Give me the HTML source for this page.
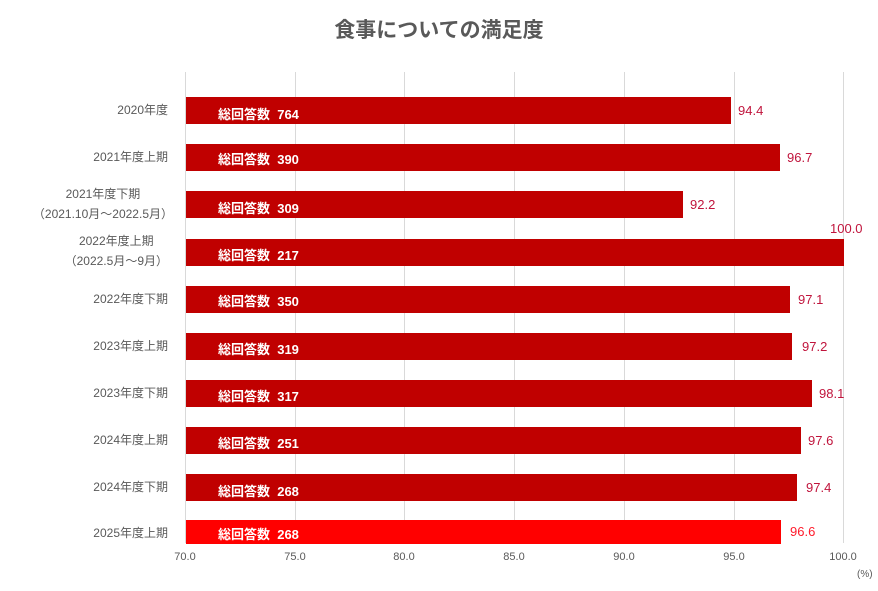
<!DOCTYPE html>
<html><head><meta charset="utf-8"><style>
body{margin:0;width:878px;height:591px;background:#fff;position:relative;font-family:"Liberation Sans","Noto Sans CJK JP",sans-serif;overflow:hidden}
.a{position:absolute;white-space:nowrap}
.g{position:absolute;top:72px;height:471px;width:1px;background:#d9d9d9}
.bar{position:absolute;left:186px;background:#c00000}
.bt{position:absolute;left:218px;color:#fff;font-weight:bold;font-size:13px}
.v{position:absolute;color:#c0143c;font-size:13px}
.c{position:absolute;color:#595959;font-size:12px;text-align:right;right:710px;line-height:20px}
.t{position:absolute;top:551px;color:#595959;font-size:11px;width:40px;margin-left:-20px;text-align:center}
</style></head><body>
<div class="a" style="left:0;width:878px;text-align:center;top:14px;font-size:21px;font-weight:bold;color:#595959">食事についての満足度</div>
<div class="g" style="left:185px"></div><div class="g" style="left:295px"></div><div class="g" style="left:404px"></div><div class="g" style="left:514px"></div><div class="g" style="left:624px"></div><div class="g" style="left:734px"></div><div class="g" style="left:843px"></div>
<div class="t" style="left:185px">70.0</div><div class="t" style="left:295px">75.0</div><div class="t" style="left:404px">80.0</div><div class="t" style="left:514px">85.0</div><div class="t" style="left:624px">90.0</div><div class="t" style="left:734px">95.0</div><div class="t" style="left:843px">100.0</div>
<div class="a" style="left:857px;top:569px;font-size:10px;color:#595959">(%)</div>

<div class="bar" style="top:97px;height:27px;width:545px"></div><div class="bt" style="top:104px">総回答数&nbsp; 764</div><div class="v" style="left:738px;top:103px">94.4</div><div class="c" style="top:100px">2020年度</div>
<div class="bar" style="top:144px;height:27px;width:594px"></div><div class="bt" style="top:149px">総回答数&nbsp; 390</div><div class="v" style="left:787px;top:150px">96.7</div><div class="c" style="top:147px">2021年度上期</div>
<div class="bar" style="top:191px;height:27px;width:497px"></div><div class="bt" style="top:198px">総回答数&nbsp; 309</div><div class="v" style="left:690px;top:197px">92.2</div><div class="c" style="top:184px;text-align:center;right:705px">2021年度下期<br>（2021.10月～2022.5月）</div>
<div class="bar" style="top:239px;height:27px;width:658px"></div><div class="bt" style="top:245px">総回答数&nbsp; 217</div><div class="v" style="left:830px;top:221px">100.0</div><div class="c" style="top:231px;text-align:center;right:710px">2022年度上期<br>（2022.5月～9月）</div>
<div class="bar" style="top:286px;height:27px;width:604px"></div><div class="bt" style="top:291px">総回答数&nbsp; 350</div><div class="v" style="left:798px;top:292px">97.1</div><div class="c" style="top:289px">2022年度下期</div>
<div class="bar" style="top:333px;height:27px;width:606px"></div><div class="bt" style="top:339px">総回答数&nbsp; 319</div><div class="v" style="left:802px;top:339px">97.2</div><div class="c" style="top:336px">2023年度上期</div>
<div class="bar" style="top:380px;height:27px;width:626px"></div><div class="bt" style="top:386px">総回答数&nbsp; 317</div><div class="v" style="left:819px;top:386px">98.1</div><div class="c" style="top:383px">2023年度下期</div>
<div class="bar" style="top:427px;height:27px;width:615px"></div><div class="bt" style="top:433px">総回答数&nbsp; 251</div><div class="v" style="left:808px;top:433px">97.6</div><div class="c" style="top:430px">2024年度上期</div>
<div class="bar" style="top:474px;height:27px;width:611px"></div><div class="bt" style="top:481px">総回答数&nbsp; 268</div><div class="v" style="left:806px;top:480px">97.4</div><div class="c" style="top:477px">2024年度下期</div>
<div class="bar" style="top:520px;height:24px;width:595px;background:#ff0000"></div><div class="bt" style="top:524px">総回答数&nbsp; 268</div><div class="v" style="left:790px;top:524px;color:#ff1a2a">96.6</div><div class="c" style="top:523px">2025年度上期</div>
</body></html>
